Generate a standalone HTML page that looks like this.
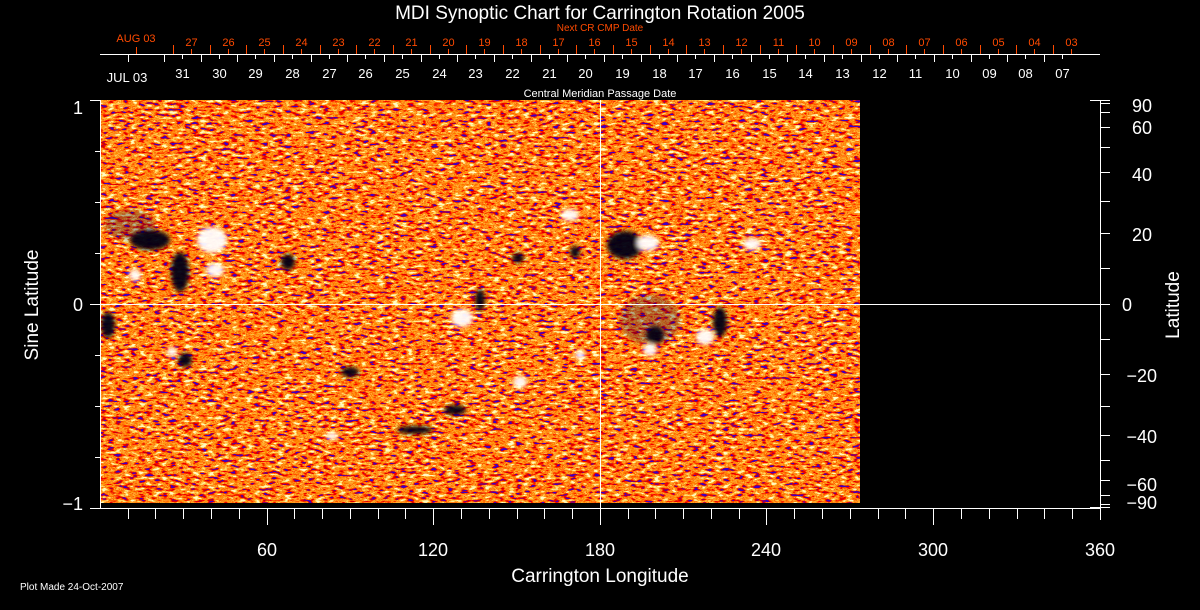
<!DOCTYPE html>
<html><head><meta charset="utf-8"><style>
html,body{margin:0;padding:0;background:#000;width:1200px;height:610px;overflow:hidden}
svg{display:block}
text{font-family:"Liberation Sans",sans-serif}
</style></head><body>
<svg width="1200" height="610" viewBox="0 0 1200 610" xmlns="http://www.w3.org/2000/svg">
<defs>
<filter id="noise" x="100" y="100" width="760" height="403" filterUnits="userSpaceOnUse">
<feTurbulence type="fractalNoise" baseFrequency="0.13 0.35" numOctaves="2" seed="7" result="t"/>
<feColorMatrix in="t" type="matrix" values="2.0 0 0 0 -0.5  2.0 0 0 0 -0.5  2.0 0 0 0 -0.5  0 0 0 0 1" result="a"/>
<feComponentTransfer in="a" result="c">
<feFuncR type="discrete" tableValues="0.05 0.65 0.95 1 1 1 1 1 1 1"/>
<feFuncG type="discrete" tableValues="0 0 0 0.08 0.25 0.4 0.12 0.5 0.72 0.95"/>
<feFuncB type="discrete" tableValues="0.55 0 0 0 0 0.03 0 0.05 0.12 0.55"/>
</feComponentTransfer>
</filter>
<filter id="blur"><feGaussianBlur stdDeviation="2"/></filter>
</defs>

<rect x="100" y="100" width="760" height="403" fill="#e8501a"/>
<rect x="100" y="100" width="760" height="403" fill="#e8501a" filter="url(#noise)"/>
<g filter="url(#blur)" opacity="0.95">
<g fill="#10105a" opacity="0.3">
<ellipse cx="130" cy="225" rx="25" ry="15"/>
<ellipse cx="650" cy="320" rx="30" ry="25"/>
</g>
<g fill="#000018">
<ellipse cx="150" cy="240" rx="20" ry="10"/>
<ellipse cx="180" cy="272" rx="9" ry="20"/>
<ellipse cx="288" cy="262" rx="7" ry="8"/>
<ellipse cx="625" cy="245" rx="18" ry="14"/>
<ellipse cx="480" cy="300" rx="5" ry="11"/>
<ellipse cx="655" cy="335" rx="9" ry="9"/>
<ellipse cx="720" cy="322" rx="7" ry="15"/>
<ellipse cx="185" cy="360" rx="7" ry="7"/>
<ellipse cx="455" cy="410" rx="11" ry="5"/>
<ellipse cx="518" cy="258" rx="6" ry="5"/>
<ellipse cx="108" cy="325" rx="7" ry="13"/>
<ellipse cx="350" cy="372" rx="9" ry="5"/>
<ellipse cx="575" cy="252" rx="5" ry="6"/>
<ellipse cx="415" cy="430" rx="18" ry="4"/>
</g>
<g fill="#ffffff">
<ellipse cx="212" cy="240" rx="15" ry="13"/>
<ellipse cx="215" cy="270" rx="9" ry="7"/>
<ellipse cx="135" cy="275" rx="6" ry="6"/>
<ellipse cx="570" cy="215" rx="9" ry="6"/>
<ellipse cx="648" cy="243" rx="11" ry="8"/>
<ellipse cx="705" cy="337" rx="9" ry="8"/>
<ellipse cx="650" cy="350" rx="7" ry="6"/>
<ellipse cx="462" cy="318" rx="11" ry="9"/>
<ellipse cx="520" cy="382" rx="7" ry="6"/>
<ellipse cx="332" cy="436" rx="6" ry="4"/>
<ellipse cx="752" cy="244" rx="9" ry="6"/>
<ellipse cx="172" cy="352" rx="5" ry="5"/>
<ellipse cx="580" cy="355" rx="5" ry="5"/>
</g>
</g>

<line x1="600.5" y1="100" x2="600.5" y2="525" stroke="#fff" stroke-width="1"/>
<line x1="90" y1="304.5" x2="1110" y2="304.5" stroke="#fff" stroke-width="1"/>

<g stroke="#fff" stroke-width="1" fill="none">
<line x1="100.5" y1="100" x2="100.5" y2="509"/>
<line x1="90" y1="100.5" x2="100" y2="100.5"/>
<line x1="90" y1="508.5" x2="1100" y2="508.5"/>
<line x1="1100.5" y1="100" x2="1100.5" y2="520"/>
<line x1="1090" y1="100.5" x2="1110" y2="100.5"/>
<path d="M95 151.5H100M95 202.5H100M95 253.5H100M95 355.5H100M95 406.5H100M95 457.5H100"/>
<path d="M1100 103.5H1110M1100 112.5H1110M1100 127.5H1110M1100 147.5H1110M1100 172.5H1110M1100 201.5H1110M1100 233.5H1110M1100 268.5H1110M1100 339.5H1110M1100 374.5H1110M1100 406.5H1110M1100 435.5H1110M1100 460.5H1110M1100 480.5H1110M1100 495.5H1110M1100 504.5H1110M1090 507.5H1110"/>
<path d="M128.5 509V519M155.5 509V519M183.5 509V519M211.5 509V519M239.5 509V519M294.5 509V519M322.5 509V519M350.5 509V519M378.5 509V519M405.5 509V519M461.5 509V519M489.5 509V519M517.5 509V519M544.5 509V519M572.5 509V519M628.5 509V519M655.5 509V519M683.5 509V519M711.5 509V519M739.5 509V519M794.5 509V519M822.5 509V519M850.5 509V519M878.5 509V519M905.5 509V519M961.5 509V519M989.5 509V519M1017.5 509V519M1044.5 509V519M1072.5 509V519"/>
<path d="M267.5 509V525M433.5 509V525M766.5 509V525M933.5 509V525"/>
<line x1="100" y1="54.5" x2="1100" y2="54.5"/>
</g>

<g id="topticks"></g>

<g fill="#fff">
<text x="600" y="19" font-size="19" text-anchor="middle">MDI Synoptic Chart for Carrington Rotation 2005</text>
<text x="600" y="97" font-size="11" text-anchor="middle">Central Meridian Passage Date</text>
<text x="127" y="82" font-size="13" text-anchor="middle">JUL 03</text>
<text x="83" y="114" font-size="18" text-anchor="end">1</text>
<text x="83" y="311" font-size="18" text-anchor="end">0</text>
<text x="83" y="510" font-size="18" text-anchor="end">−1</text>
<text x="267" y="556" font-size="18" text-anchor="middle">60</text>
<text x="433" y="556" font-size="18" text-anchor="middle">120</text>
<text x="600" y="556" font-size="18" text-anchor="middle">180</text>
<text x="766" y="556" font-size="18" text-anchor="middle">240</text>
<text x="933" y="556" font-size="18" text-anchor="middle">300</text>
<text x="1100" y="556" font-size="18" text-anchor="middle">360</text>
<text x="600" y="582" font-size="19" text-anchor="middle">Carrington Longitude</text>
<text x="20" y="590" font-size="10">Plot Made 24-Oct-2007</text>
<text transform="translate(38,305) rotate(-90)" font-size="19" text-anchor="middle">Sine Latitude</text>
<text transform="translate(1179,305) rotate(-90)" font-size="19" text-anchor="middle">Latitude</text>
<g font-size="18" text-anchor="end">
<text x="1152" y="112">90</text>
<text x="1152" y="134">60</text>
<text x="1152" y="181">40</text>
<text x="1152" y="241">20</text>
<text x="1132" y="311">0</text>
<text x="1157" y="382">−20</text>
<text x="1157" y="443">−40</text>
<text x="1157" y="491">−60</text>
<text x="1157" y="509">−90</text>
</g>
</g>
<g fill="#ff4a00">
<text x="600" y="31" font-size="10" text-anchor="middle">Next CR CMP Date</text>
<text x="136" y="42" font-size="11" text-anchor="middle">AUG 03</text>
</g>
<g id="labels"></g>
</svg>
<script>
(function(){
var ns="http://www.w3.org/2000/svg";
var g=document.getElementById("topticks"),L=document.getElementById("labels");
function ln(x1,y1,x2,y2,c){var l=document.createElementNS(ns,"line");l.setAttribute("x1",x1);l.setAttribute("y1",y1);l.setAttribute("x2",x2);l.setAttribute("y2",y2);l.setAttribute("stroke",c);g.appendChild(l);}
function tx(x,y,s,c,fs){var t=document.createElementNS(ns,"text");t.setAttribute("x",x);t.setAttribute("y",y);t.setAttribute("fill",c);t.setAttribute("font-size",fs);t.setAttribute("text-anchor","middle");t.textContent=s;L.appendChild(t);}
var d=36.67,i,x;
var w=["31","30","29","28","27","26","25","24","23","22","21","20","19","18","17","16","15","14","13","12","11","10","09","08","07"];
ln(128.5,54,128.5,62,"#fff");
for(i=0;i<25;i++){x=Math.round(182+d*i)+0.5;ln(x,54,x,59,"#fff");ln(x-18,54,x-18,62,"#fff");tx(x,78,w[i],"#fff",13);}
var o=["27","26","25","24","23","22","21","20","19","18","17","16","15","14","13","12","11","10","09","08","07","06","05","04","03"];
ln(136.5,54,136.5,47,"#ff4a00");
for(i=0;i<25;i++){x=Math.round(191+d*i)+0.5;ln(x,54,x,49,"#ff4a00");ln(x-18,54,x-18,45,"#ff4a00");tx(x,46,o[i],"#ff4a00",11);}
})();
</script>
</body></html>
